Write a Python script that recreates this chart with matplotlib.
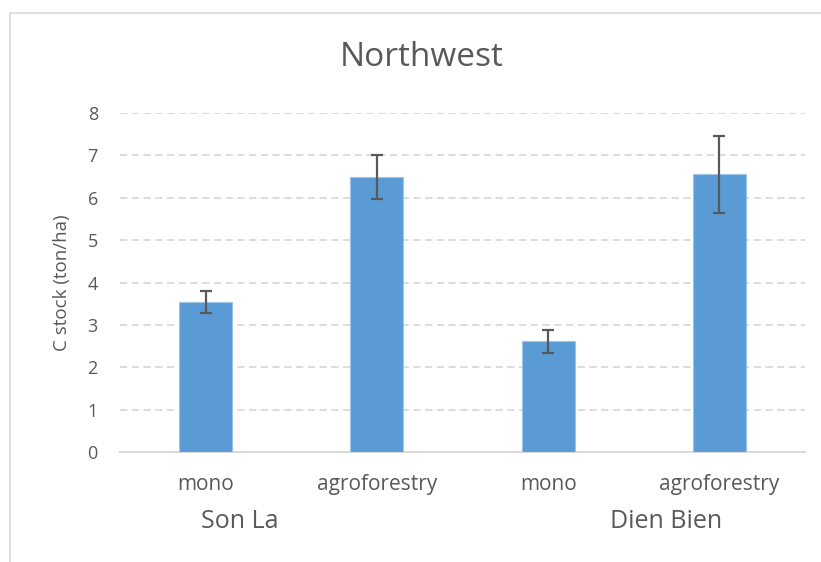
import numpy as np
import matplotlib.pyplot as plt
from matplotlib.patches import Rectangle

plt.rcParams['font.family'] = ['Open Sans', 'DejaVu Sans']

# data
systems = ['mono', 'agroforestry', 'mono', 'agroforestry']
provinces = ['Son La', 'Dien Bien']
c_stock = [3.55, 6.48, 2.61, 6.55]
c_err = [0.26, 0.52, 0.27, 0.91]
yticks = [0, 1, 2, 3, 4, 5, 6, 7, 8]

grey = '#595959'
lightgrey = '#d9d9d9'

fig = plt.figure(figsize=(8.21, 5.62), dpi=100)
# chart area frame
fig.patches.append(Rectangle((10/821, -0.1), 1.2, 1 - 13/562 + 0.1,
                             transform=fig.transFigure, fill=False,
                             edgecolor=lightgrey, lw=1.2))

ax = fig.add_axes([120/821, 1 - 452/562, 685/821, 339/562])
x = np.arange(len(systems))
ax.bar(x, c_stock, width=0.31, color='#5b9bd5', edgecolor='#9dc3e6',
       linewidth=0.8, zorder=3)
ax.errorbar(x, c_stock, yerr=c_err, fmt='none', ecolor=grey,
            elinewidth=1.6, capsize=4, capthick=1.6, zorder=4)

ax.set_xlim(-0.5, 3.5)
ax.set_ylim(0, 8)
ax.set_yticks(yticks)
ax.set_xticks(x)
ax.set_xticklabels(systems)
ax.tick_params(axis='y', length=0, pad=16, labelsize=13, labelcolor=grey)
ax.tick_params(axis='x', length=0, pad=16, labelsize=15, labelcolor=grey)
ax.grid(axis='y', color=lightgrey, linestyle=(0, (4, 2.5)), lw=1.3, zorder=0)
for s in ['top', 'right', 'left']:
    ax.spines[s].set_visible(False)
ax.spines['bottom'].set_color(lightgrey)
ax.spines['bottom'].set_linewidth(1.5)

ax.set_ylabel('C stock (ton/ha)', fontsize=13.5, color=grey, labelpad=12)

# province labels under the category labels
for label, xp in zip(provinces, [0.2, 2.69]):
    ax.text(xp, -0.205, label, transform=ax.get_xaxis_transform(),
            ha='center', va='center', fontsize=18, color=grey)

fig.text(422/821, 1 - 58/562, 'Northwest', ha='center', va='center',
         fontsize=24, color=grey)

fig.savefig('out.png', dpi=100)
